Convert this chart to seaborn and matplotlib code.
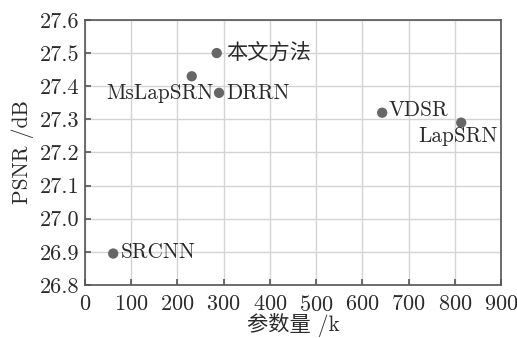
import numpy as np
import pandas as pd
import matplotlib
matplotlib.use("Agg")
import matplotlib.pyplot as plt
import seaborn as sns

# data
methods = ["SRCNN", "MsLapSRN", "本文方法", "DRRN", "VDSR", "LapSRN"]
params_k = [61, 231, 285, 290, 643, 814]
psnr_db = [26.895, 27.43, 27.50, 27.38, 27.32, 27.29]

# label placement (offset in pixels, alignment)
label_pos = {
    "SRCNN": ((8, 1), "left"),
    "MsLapSRN": ((22, -17), "right"),
    "本文方法": ((9, 0), "left"),
    "DRRN": ((7, 0), "left"),
    "VDSR": ((6, 2), "left"),
    "LapSRN": ((36, -14), "right"),
}


def main():
    sns.set_style("whitegrid")
    plt.rcParams["font.family"] = ["cmr10", "Noto Sans CJK SC"]
    plt.rcParams["axes.formatter.use_mathtext"] = True
    plt.rcParams["mathtext.fontset"] = "cm"

    df = pd.DataFrame({"method": methods, "params": params_k, "psnr": psnr_db})

    fig = plt.figure(figsize=(5.17, 3.38), dpi=100)
    ax = fig.add_axes([0.1644, 0.1568, 0.8046, 0.7842])

    sns.scatterplot(data=df, x="params", y="psnr", ax=ax, color="#666666",
                    s=55, edgecolor="none", zorder=3)

    for _, row in df.iterrows():
        (dx, dy), ha = label_pos[row["method"]]
        ax.annotate(row["method"], (row["params"], row["psnr"]),
                    xytext=(dx, dy), textcoords="offset pixels",
                    ha=ha, va="center", fontsize=15.3, color="#2a2a2a")

    ax.set_xlim(0, 900)
    ax.set_ylim(26.8, 27.6)
    ax.set_xticks(np.arange(0, 901, 100))
    ax.set_yticks(np.arange(26.8, 27.61, 0.1))
    ax.set_yticklabels([f"{v:.1f}" for v in np.arange(26.8, 27.61, 0.1)])

    ax.grid(True, color="#d4d4d4", linewidth=1.0)
    for side in ["left", "bottom", "right", "top"]:
        ax.spines[side].set_color("#555555")
        ax.spines[side].set_linewidth(1.2)
    ax.tick_params(axis="both", direction="in", length=4, width=1.2,
                   color="#555555", labelsize=16, labelcolor="#2a2a2a",
                   bottom=True, left=True, top=False, right=False, pad=4)
    ax.tick_params(axis="x", pad=7)

    ax.set_xlabel("参数量 /k", fontsize=15.3, color="#2a2a2a", labelpad=-1)
    ax.set_ylabel("PSNR /dB", fontsize=15.5, color="#2a2a2a", labelpad=4)

    fig.savefig("out.png", dpi=100)


if __name__ == "__main__":
    main()
